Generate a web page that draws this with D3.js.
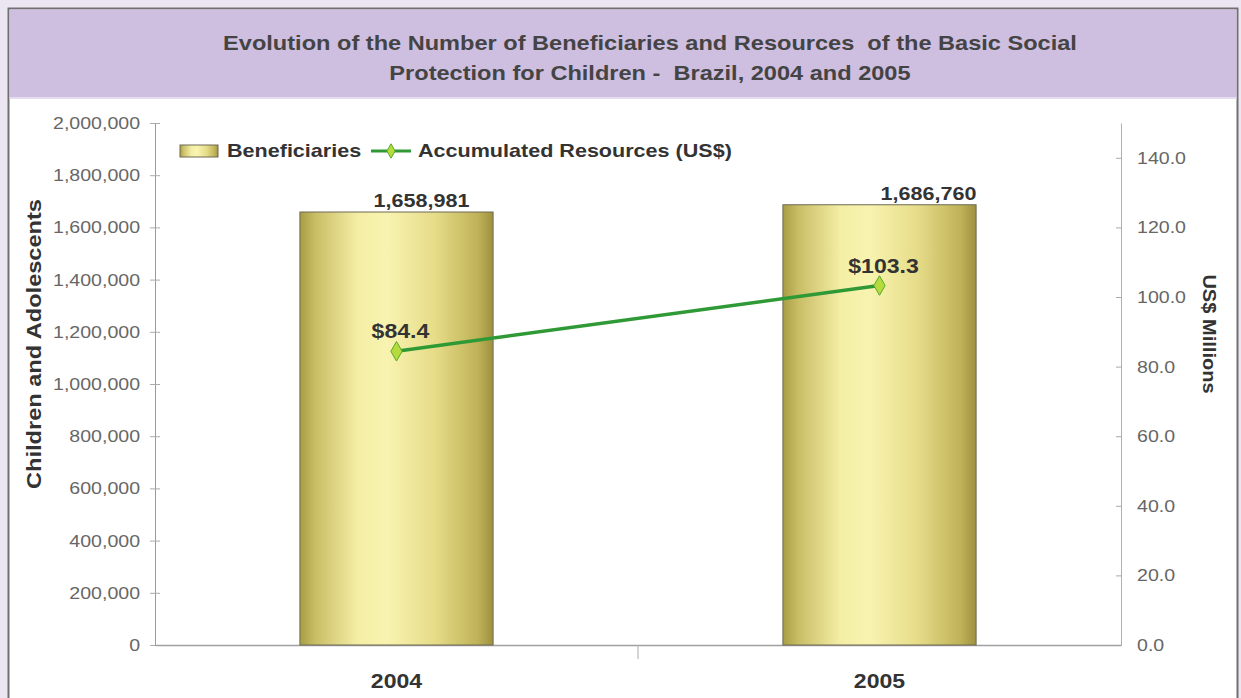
<!DOCTYPE html>
<html>
<head>
<meta charset="utf-8">
<script src="https://cdn.jsdelivr.net/npm/d3@7"></script>
<style>
  html, body { margin: 0; padding: 0; background: #ece6f3; }
  svg { display: block; font-family: "Liberation Sans", Arial, sans-serif; }
  text { white-space: pre; }
</style>
</head>
<body>
<svg id="chart" width="1241" height="698"></svg>
<script>
// Chart data
const years = ["2004", "2005"];
const beneficiaries = [1658981, 1686760];
const beneficiaryLabels = ["1,658,981", "1,686,760"];
const resources = [84.4, 103.3];
const resourceLabels = ["$84.4", "$103.3"];
const leftTicks = [0, 200000, 400000, 600000, 800000, 1000000, 1200000, 1400000, 1600000, 1800000, 2000000];
const rightTicks = [0, 20, 40, 60, 80, 100, 120, 140];
const titleLines = [
  "Evolution of the Number of Beneficiaries and Resources  of the Basic Social",
  "Protection for Children -  Brazil, 2004 and 2005"
];

const svg = d3.select("#chart");
const FONT = "Liberation Sans, Arial, sans-serif";
const WIDEN = 1.14;   // text is set slightly wide
const SHRINK = 0.88;  // and a little shorter

// widen every text element of a selection along its writing direction
function widen(sel) {
  sel.each(function () {
    const len = this.getComputedTextLength();
    d3.select(this).attr("textLength", len * WIDEN).attr("lengthAdjust", "spacingAndGlyphs");
  });
}

// Frame and title band
svg.append("rect").attr("x", 8.5).attr("y", 8.5).attr("width", 1229).attr("height", 700)
  .attr("fill", "#ffffff").attr("stroke", "#707070").attr("stroke-width", 2);
svg.append("rect").attr("x", 9.5).attr("y", 9.5).attr("width", 1227).attr("height", 88)
  .attr("fill", "#cebee0");
svg.append("line").attr("x1", 9.5).attr("x2", 1236.5).attr("y1", 98).attr("y2", 98)
  .attr("stroke", "#e4dcef").attr("stroke-width", 2);

svg.selectAll("text.title").data(titleLines).join("text")
  .attr("class", "title")
  .attr("x", 650).attr("y", (d, i) => 50 + i * 30)
  .attr("text-anchor", "middle")
  .attr("font-size", 23.5 * SHRINK).attr("font-weight", "bold").attr("fill", "#444")
  .text(d => d);

// Plot geometry
const plotL = 155, plotR = 1121, plotT = 123, plotB = 645;

const x = d3.scaleBand().domain(years).range([plotL, plotR]).padding(0);
const yL = d3.scaleLinear().domain([0, 2000000]).range([plotB, plotT]);
const yR = d3.scaleLinear().domain([0, 150]).range([plotB, plotT]);

// Bar gradient
const defs = svg.append("defs");
const grad = defs.append("linearGradient").attr("id", "barGrad")
  .attr("x1", "0%").attr("x2", "100%").attr("y1", "0%").attr("y2", "0%");
[[0, "#a89c45"], [0.08, "#c9bd66"], [0.3, "#f4eea5"], [0.45, "#f8f3b0"], [0.7, "#e6dc88"], [0.92, "#bfb258"], [1, "#9d9140"]]
  .forEach(([o, c]) => grad.append("stop").attr("offset", o).attr("stop-color", c));

// Left axis
const axL = d3.axisLeft(yL).tickValues(leftTicks).tickSize(0).tickPadding(15)
  .tickFormat(d3.format(","));
const gL = svg.append("g").attr("transform", `translate(${plotL},0)`).call(axL);
gL.select(".domain").attr("stroke", "#9a9a9a");
gL.selectAll("text").attr("font-size", 19.5 * SHRINK).attr("fill", "#666").attr("font-family", FONT);
gL.selectAll(".tick").append("line").attr("x1", -5).attr("x2", 5).attr("stroke", "#aaa");

// Right axis
const axR = d3.axisRight(yR).tickValues(rightTicks).tickSize(0).tickPadding(16)
  .tickFormat(d3.format(".1f"));
const gR = svg.append("g").attr("transform", `translate(${plotR},0)`).call(axR);
gR.select(".domain").attr("stroke", "#b0b0b0");
gR.selectAll("text").attr("font-size", 19.5 * SHRINK).attr("fill", "#666").attr("font-family", FONT);
gR.selectAll(".tick").append("line").attr("x1", -5).attr("x2", 0).attr("stroke", "#aaa");

// Bottom axis
const axB = d3.axisBottom(x).tickSize(0).tickPadding(29);
const gB = svg.append("g").attr("transform", `translate(0,${plotB})`).call(axB);
gB.select(".domain").attr("stroke", "#a0a0a0").attr("stroke-width", 1.5);
gB.selectAll("text").attr("font-size", 23 * SHRINK).attr("font-weight", "bold").attr("fill", "#333")
  .attr("font-family", FONT);
svg.append("line").attr("x1", x("2005")).attr("x2", x("2005")).attr("y1", plotB).attr("y2", plotB + 14)
  .attr("stroke", "#aaa");

// Axis titles
const axisTitles = svg.append("g");
axisTitles.append("text").attr("transform", `translate(41,${(plotT + plotB) / 2 - 40}) rotate(-90)`)
  .attr("text-anchor", "middle").attr("font-size", 23.5 * SHRINK).attr("font-weight", "bold").attr("fill", "#333")
  .text("Children and Adolescents");
axisTitles.append("text").attr("transform", `translate(1203,${(plotT + plotB) / 2 - 50}) rotate(90)`)
  .attr("text-anchor", "middle").attr("font-size", 20 * SHRINK).attr("font-weight", "bold").attr("fill", "#333")
  .text("US$ Millions");

// Bars
const barW = x.bandwidth() * 0.4;
const barLabelDx = [25, 49];
svg.selectAll("rect.bar").data(years).join("rect")
  .attr("class", "bar")
  .attr("x", d => x(d) + (x.bandwidth() - barW) / 2)
  .attr("y", (d, i) => yL(beneficiaries[i]))
  .attr("width", barW)
  .attr("height", (d, i) => plotB - yL(beneficiaries[i]))
  .attr("fill", "url(#barGrad)").attr("stroke", "#6e6a55").attr("stroke-width", 1);

svg.selectAll("text.barlbl").data(years).join("text")
  .attr("class", "barlbl")
  .attr("x", (d, i) => x(d) + x.bandwidth() / 2 + barLabelDx[i])
  .attr("y", (d, i) => yL(beneficiaries[i]) - 5)
  .attr("text-anchor", "middle").attr("font-size", 21.5 * SHRINK).attr("font-weight", "bold").attr("fill", "#333")
  .text((d, i) => beneficiaryLabels[i]);

// Resources line
const pts = years.map((d, i) => [x(d) + x.bandwidth() / 2, yR(resources[i])]);
svg.append("path").attr("d", d3.line()(pts))
  .attr("fill", "none").attr("stroke", "#2f9a35").attr("stroke-width", 3.5);
svg.selectAll("path.mk").data(pts).join("path")
  .attr("class", "mk")
  .attr("transform", d => `translate(${d[0]},${d[1]})`)
  .attr("d", d3.symbol(d3.symbolDiamond, 110))
  .attr("fill", "#b5dc3c").attr("stroke", "#5aa82c").attr("stroke-width", 1);
svg.selectAll("text.linelbl").data(pts).join("text")
  .attr("class", "linelbl")
  .attr("x", d => d[0] + 4).attr("y", d => d[1] - 13)
  .attr("text-anchor", "middle").attr("font-size", 23 * SHRINK).attr("font-weight", "bold").attr("fill", "#333")
  .text((d, i) => resourceLabels[i]);

// Legend
const lg = svg.append("g");
lg.append("rect").attr("x", 180).attr("y", 145).attr("width", 38).attr("height", 12)
  .attr("fill", "url(#barGrad)").attr("stroke", "#6e6a55");
lg.append("text").attr("x", 227).attr("y", 157).attr("font-size", 21.5 * SHRINK).attr("font-weight", "bold").attr("fill", "#333")
  .text("Beneficiaries");
lg.append("line").attr("x1", 371).attr("x2", 411).attr("y1", 151).attr("y2", 151)
  .attr("stroke", "#2f9a35").attr("stroke-width", 3);
lg.append("path").attr("transform", "translate(391,151)").attr("d", d3.symbol(d3.symbolDiamond, 60))
  .attr("fill", "#b5dc3c").attr("stroke", "#5aa82c");
lg.append("text").attr("x", 418).attr("y", 157).attr("font-size", 21.5 * SHRINK).attr("font-weight", "bold").attr("fill", "#333")
  .text("Accumulated Resources (US$)");

// all text gets the wide setting along its writing direction
widen(svg.selectAll("text.title, text.barlbl, text.linelbl"));
widen(axisTitles.selectAll("text"));
widen(gL.selectAll("text"));
widen(gR.selectAll("text"));
widen(gB.selectAll("text"));
widen(lg.selectAll("text"));
</script>
</body>
</html>
